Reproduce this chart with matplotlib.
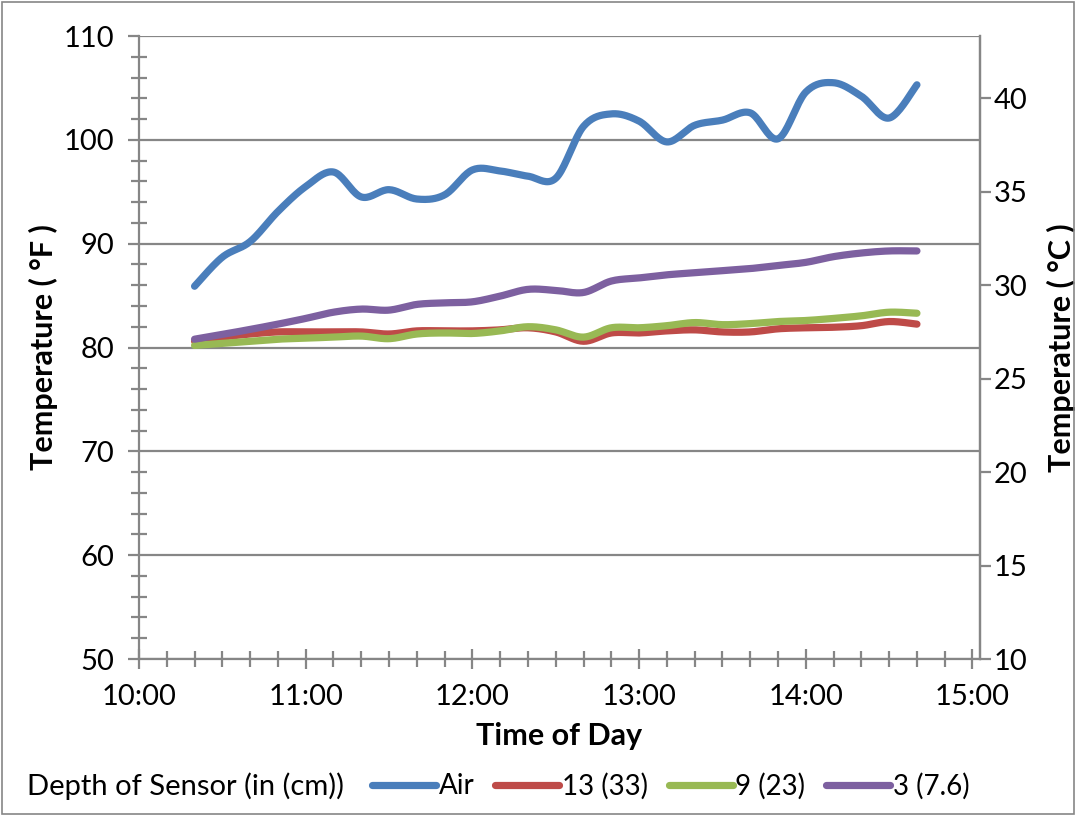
import numpy as np
import matplotlib
matplotlib.use('Agg')
import matplotlib.pyplot as plt
from matplotlib.lines import Line2D
from matplotlib.patches import Rectangle

plt.rcParams['font.family'] = ['Lato', 'DejaVu Sans']

# readings every 10 minutes
times = ['10:20', '10:30', '10:40', '10:50', '11:00', '11:10', '11:20', '11:30', '11:40',
         '11:50', '12:00', '12:10', '12:20', '12:30', '12:40', '12:50', '13:00', '13:10',
         '13:20', '13:30', '13:40', '13:50', '14:00', '14:10', '14:20', '14:30', '14:40']

air = [85.9, 88.7, 90.2, 93.1, 95.5, 96.9, 94.5, 95.2, 94.3, 94.7, 97.1, 97.0, 96.5, 96.3,
       101.3, 102.5, 101.8, 99.8, 101.4, 101.9, 102.6, 100.1, 104.6, 105.5, 104.2, 102.1, 105.3]
depth_13 = [80.6, 81.0, 81.3, 81.5, 81.5, 81.5, 81.5, 81.3, 81.6, 81.6, 81.6, 81.7, 81.9, 81.5,
            80.6, 81.4, 81.4, 81.6, 81.7, 81.5, 81.5, 81.8, 81.9, 81.95, 82.1, 82.5, 82.25]
depth_9 = [80.2, 80.4, 80.6, 80.8, 80.9, 81.0, 81.1, 80.85, 81.3, 81.4, 81.35, 81.6, 82.0, 81.7,
           81.0, 81.9, 81.9, 82.1, 82.4, 82.2, 82.3, 82.5, 82.6, 82.8, 83.05, 83.4, 83.3]
depth_3 = [80.8, 81.26, 81.74, 82.25, 82.8, 83.4, 83.7, 83.6, 84.15, 84.3, 84.4, 84.95, 85.6, 85.5,
           85.3, 86.4, 86.7, 87.0, 87.2, 87.4, 87.6, 87.9, 88.2, 88.75, 89.1, 89.3, 89.3]

series_names = ['Air', '13 (33)', '9 (23)', '3 (7.6)']
series_colors = ['#4A7EBB', '#BE4B48', '#98B954', '#7D60A0']
hour_labels = ['10:00', '11:00', '12:00', '13:00', '14:00', '15:00']

GRAY = '#868686'
FS = 21
LFS = 22


def to_hours(s):
    h, m = s.split(':')
    return int(h) + int(m) / 60.


def smooth(x, y, n=20):
    # Catmull-Rom style bezier through every point (spreadsheet "smoothed line")
    x = np.asarray(x, float)
    y = np.asarray(y, float)
    px = np.concatenate([[x[0]], x, [x[-1]]])
    py = np.concatenate([[y[0]], y, [y[-1]]])
    xs, ys = [], []
    t = np.linspace(0, 1, n, endpoint=False)
    for i in range(1, len(px) - 2):
        p0, p1, p2, p3 = (np.array([px[j], py[j]]) for j in range(i - 1, i + 3))
        c1 = p1 + (p2 - p0) / 6.
        c2 = p2 - (p3 - p1) / 6.
        b = ((1 - t) ** 3)[:, None] * p1 + (3 * (1 - t) ** 2 * t)[:, None] * c1 \
            + (3 * (1 - t) * t ** 2)[:, None] * c2 + (t ** 3)[:, None] * p2
        xs.append(b[:, 0])
        ys.append(b[:, 1])
    xs.append([x[-1]])
    ys.append([y[-1]])
    return np.concatenate(xs), np.concatenate(ys)


x = [to_hours(s) for s in times]

fig = plt.figure(figsize=(10.76, 8.16), dpi=100)
ax = fig.add_axes([139 / 1076, 1 - 659 / 816, (980 - 139) / 1076, (659 - 36) / 816])

for vals, name, col in zip([air, depth_13, depth_9, depth_3], series_names, series_colors):
    sx, sy = smooth(x, vals)
    ax.plot(sx, sy, color=col, lw=5.2, solid_capstyle='round', solid_joinstyle='round', label=name)

ax.set_xlim(10, 15.045)
ax.set_ylim(50, 110)
ax.set_xticks([to_hours(s) for s in hour_labels])
ax.set_xticklabels(hour_labels)
ax.set_xticks(np.arange(10, 15.01, 1 / 6.), minor=True)
ax.set_yticks(np.arange(50, 111, 10))
ax.set_yticks(np.arange(50, 111, 2), minor=True)

ax.grid(axis='y', which='major', color=GRAY, lw=1.6)
ax.set_axisbelow(True)
for side in ['left', 'bottom', 'right']:
    ax.spines[side].set_color(GRAY)
    ax.spines[side].set_linewidth(1.6)
ax.spines['top'].set_visible(False)

ax.tick_params(axis='y', which='major', direction='out', length=8, width=1.6, color=GRAY,
               labelsize=FS, pad=10)
ax.tick_params(axis='y', which='minor', direction='inout', length=11, width=1.6, color=GRAY)
ax.tick_params(axis='x', which='major', direction='inout', length=14, width=1.6, color=GRAY,
               labelsize=FS, pad=11)
ax.tick_params(axis='x', which='minor', direction='inout', length=11, width=1.6, color=GRAY)

ax.set_ylabel('Temperature ( °F )', fontsize=LFS, fontweight='bold', labelpad=4)
ax.set_xlabel('Time of Day', fontsize=LFS, fontweight='bold', labelpad=9)

# Celsius scale on the right
ax2 = ax.twinx()
ax2.set_ylim((50 - 32) / 1.8, (110 - 32) / 1.8)
ax2.set_yticks(np.arange(10, 41, 5))
ax2.tick_params(axis='y', direction='out', length=8, width=1.6, color=GRAY, labelsize=FS, pad=2)
for side in ['left', 'bottom', 'top']:
    ax2.spines[side].set_visible(False)
ax2.spines['right'].set_color(GRAY)
ax2.spines['right'].set_linewidth(1.6)
ax2.set_ylabel('Temperature ( °C )', fontsize=LFS, fontweight='bold', labelpad=14)

# legend along the bottom
fig.text(27 / 1076, 1 - 786 / 816, 'Depth of Sensor (in (cm))', fontsize=FS, va='center', ha='left')
handles = [Line2D([], [], color=c, lw=5.2, solid_capstyle='round') for c in series_colors]
fig.legend(handles, series_names, loc='center left', bbox_to_anchor=(372 / 1076, 1 - 786 / 816),
           ncol=4, frameon=False, fontsize=20, handlelength=2.3, handletextpad=0.1,
           columnspacing=0.75, borderaxespad=0, borderpad=0)

fig.patches.append(Rectangle((0.002, 0.002), 0.996, 0.996, transform=fig.transFigure,
                             fill=False, edgecolor=GRAY, lw=1.2))

fig.savefig('out.png', dpi=100)
